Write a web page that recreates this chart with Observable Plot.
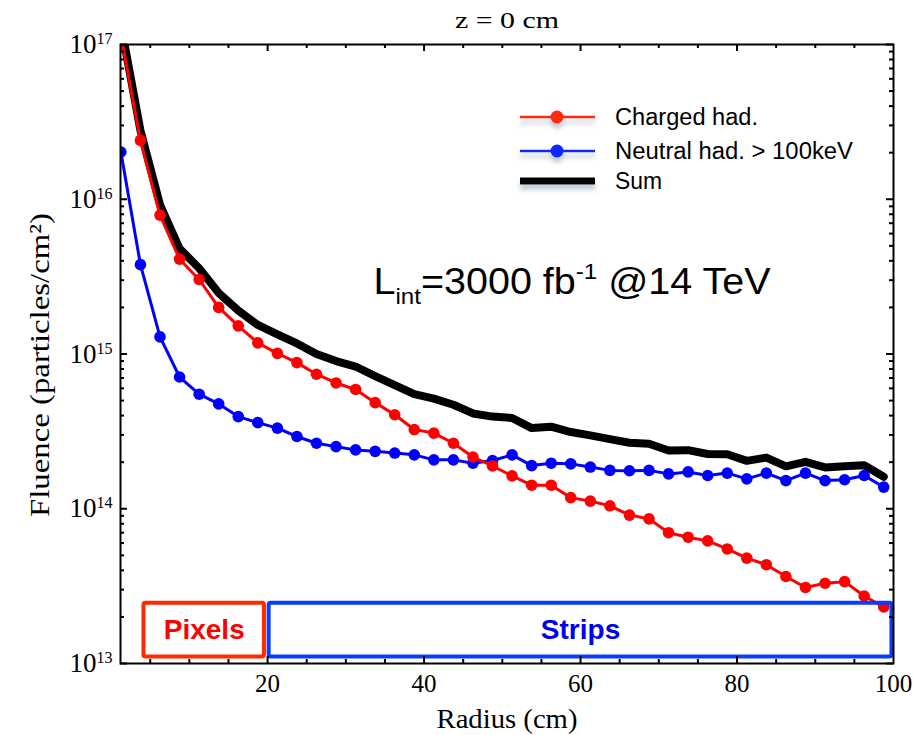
<!DOCTYPE html>
<html>
<head>
<meta charset="utf-8">
<script src="https://cdn.jsdelivr.net/npm/d3@7"></script>
<script src="https://cdn.jsdelivr.net/npm/@observablehq/plot@0.6"></script>
<style>
  html, body { margin: 0; padding: 0; background: #fff; overflow: hidden; }
  svg { display: block; }
  text { white-space: pre; }
</style>
</head>
<body>
<div id="chart"></div>
<script>
// ---------------- data ----------------
const radius = [1.25, 3.75, 6.25, 8.75, 11.25, 13.75, 16.25, 18.75, 21.25, 23.75,
  26.25, 28.75, 31.25, 33.75, 36.25, 38.75, 41.25, 43.75, 46.25, 48.75,
  51.25, 53.75, 56.25, 58.75, 61.25, 63.75, 66.25, 68.75, 71.25, 73.75,
  76.25, 78.75, 81.25, 83.75, 86.25, 88.75, 91.25, 93.75, 96.25, 98.75];

const charged = [1.15e17, 2.40e16, 7.9e15, 4.1e15, 3.03e15, 2.0e15, 1.52e15, 1.18e15, 1.01e15, 8.8e14,
  7.4e14, 6.5e14, 5.9e14, 4.85e14, 4.05e14, 3.25e14, 3.08e14, 2.65e14, 2.16e14, 1.89e14,
  1.63e14, 1.42e14, 1.42e14, 1.18e14, 1.12e14, 1.045e14, 9.1e13, 8.6e13, 7.0e13, 6.55e13,
  6.2e13, 5.5e13, 4.8e13, 4.35e13, 3.65e13, 3.1e13, 3.3e13, 3.38e13, 2.73e13, 2.32e13];

const neutral = [2.02e16, 3.78e15, 1.29e15, 7.1e14, 5.5e14, 4.76e14, 3.94e14, 3.6e14, 3.32e14, 2.93e14,
  2.65e14, 2.52e14, 2.4e14, 2.35e14, 2.29e14, 2.23e14, 2.07e14, 2.07e14, 1.97e14, 2.05e14,
  2.23e14, 1.9e14, 1.97e14, 1.95e14, 1.86e14, 1.77e14, 1.76e14, 1.77e14, 1.68e14, 1.73e14,
  1.64e14, 1.7e14, 1.56e14, 1.7e14, 1.52e14, 1.7e14, 1.52e14, 1.54e14, 1.64e14, 1.38e14];

const total = [1.35e17, 2.78e16, 9.2e15, 4.8e15, 3.58e15, 2.48e15, 1.91e15, 1.54e15, 1.34e15, 1.17e15,
  1.0e15, 9.0e14, 8.3e14, 7.2e14, 6.3e14, 5.5e14, 5.15e14, 4.7e14, 4.13e14, 3.94e14,
  3.86e14, 3.32e14, 3.39e14, 3.13e14, 2.98e14, 2.82e14, 2.67e14, 2.63e14, 2.38e14, 2.39e14,
  2.26e14, 2.25e14, 2.04e14, 2.14e14, 1.88e14, 2.01e14, 1.85e14, 1.88e14, 1.91e14, 1.61e14];

const seriesNames = ["Charged had.", "Neutral had. > 100keV", "Sum"];
const xTickLabels = [20, 40, 60, 80, 100];
const yTickExponents = [13, 14, 15, 16, 17];
const regions = [
  {label: "Pixels", r1: 4.2, r2: 19.6},
  {label: "Strips", r1: 20.2, r2: 99.8}
];
const regionFluence = [1.1e13, 2.45e13];
const titleText = "z = 0 cm";
const xLabel = "Radius (cm)";
const yLabel = "Fluence (particles/cm\u00B2)";
const annotation = "L_int=3000 fb^-1 @14 TeV";

// ---------------- styles ----------------
const RED = "#ff0000", BLUE = "#0000ff";
const regionStyle = {
  Pixels: {stroke: "#ff2a00", text: "#ff0000"},
  Strips: {stroke: "#0a3cff", text: "#0000f0"}
};
const legendStyle = [
  {stroke: "#ff2a10", width: 2.5, dot: true, textLength: 143},
  {stroke: "#0a28ff", width: 2.5, dot: true, textLength: 238},
  {stroke: "#000000", width: 7, dot: false, textLength: 47}
];
const serif = "'Liberation Serif','Times New Roman',serif";
const sans = "'Liberation Sans',Arial,Helvetica,sans-serif";

const W = 924, H = 735, mL = 120, mR = 31, mT = 44, mB = 72;
const fw = W - mL - mR, fh = H - mT - mB;

const rows = radius.map((r, i) => ({r, charged: charged[i], neutral: neutral[i], total: total[i]}));

const xMajor = xTickLabels.filter(v => v < 100);
const xMinor = d3.range(5, 100, 5).filter(v => v % 20 !== 0);
const yMajor = yTickExponents.map(e => Math.pow(10, e));
const yMinor = [];
for (const e of yTickExponents.slice(0, -1)) for (let m = 2; m < 10; m++) yMinor.push(m * Math.pow(10, e));

const tk = {stroke: "black", strokeWidth: 2};
const mid = {lineAnchor: "middle", textAnchor: "middle"};

const plot = Plot.plot({
  width: W, height: H,
  marginLeft: mL, marginRight: mR, marginTop: mT, marginBottom: mB,
  style: {background: "white", fontFamily: serif, overflow: "visible"},
  x: {domain: [1.2, 100], axis: null},
  y: {type: "log", domain: [1e13, 1e17], axis: null},
  marks: [
    // series
    Plot.line(rows, {x: "r", y: "total", stroke: "black", strokeWidth: 8, clip: true}),
    Plot.line(rows, {x: "r", y: "neutral", stroke: BLUE, strokeWidth: 3, clip: true}),
    Plot.dot(rows, {x: "r", y: "neutral", r: 5.8, fill: BLUE, clip: true}),
    Plot.line(rows, {x: "r", y: "charged", stroke: RED, strokeWidth: 3, clip: true}),
    Plot.dot(rows, {x: "r", y: "charged", r: 5.8, fill: RED, clip: true}),
    // detector regions
    ...regions.map(reg => Plot.rect([reg], {
      x1: "r1", x2: "r2", y1: () => regionFluence[0], y2: () => regionFluence[1],
      stroke: regionStyle[reg.label].stroke, strokeWidth: 4, fill: "none", rx: 2
    })),
    ...regions.map(reg => Plot.text([reg], {
      x: d => (d.r1 + d.r2) / 2, y: () => Math.sqrt(regionFluence[0] * regionFluence[1]),
      text: "label", fill: regionStyle[reg.label].text, fontWeight: "bold",
      fontSize: 28, fontFamily: sans, ...mid
    })),
    // ticks (inward, mirrored)
    Plot.tickX(xMajor, {x: d => d, insetTop: fh - 7, ...tk}),
    Plot.tickX(xMajor, {x: d => d, insetBottom: fh - 7, ...tk}),
    Plot.tickX(xMinor, {x: d => d, insetTop: fh - 4, ...tk}),
    Plot.tickX(xMinor, {x: d => d, insetBottom: fh - 4, ...tk}),
    Plot.tickY(yMajor, {y: d => d, insetRight: fw - 7, ...tk}),
    Plot.tickY(yMajor, {y: d => d, insetLeft: fw - 7, ...tk}),
    Plot.tickY(yMinor, {y: d => d, insetRight: fw - 4, ...tk}),
    Plot.tickY(yMinor, {y: d => d, insetLeft: fw - 4, ...tk}),
    Plot.frame({stroke: "black", strokeWidth: 2}),
    // tick labels
    Plot.text(xTickLabels, {x: d => d, frameAnchor: "bottom", dy: 20, text: d => String(d), fontSize: 25, fill: "black", ...mid}),
    Plot.text(yTickExponents, {y: e => Math.pow(10, e), frameAnchor: "left", dx: -8, textAnchor: "end", lineAnchor: "middle",
      text: e => "10^" + e, fontSize: 27, fill: "black"}),
    // titles
    Plot.text([titleText], {frameAnchor: "top", dy: -24, text: d => d, fontSize: 24, fill: "black", ...mid}),
    Plot.text([xLabel], {frameAnchor: "bottom", dy: 56, text: d => d, fontSize: 27, fill: "black", ...mid}),
    Plot.text([yLabel], {frameAnchor: "left", dx: -80, dy: 11, rotate: -90, text: d => d, fontSize: 28, fill: "black", ...mid}),
    // luminosity annotation
    Plot.text([annotation], {frameAnchor: "top-left", dx: 253, dy: 238, textAnchor: "start", lineAnchor: "middle",
      text: d => d, fontSize: 36, fontFamily: sans, fill: "black"})
  ]
});

document.getElementById("chart").appendChild(plot);

// ---------------- post-processing: super/subscripts, text widths ----------------
const svg = d3.select(plot);
svg.selectAll("text").each(function () {
  const t = d3.select(this);
  const s = this.textContent;
  let m = s.match(/^10\^(\d+)$/);
  if (m) {
    t.text("10");
    t.append("tspan").attr("dy", -9).attr("font-size", 16).text(m[1]);
    return;
  }
  if (s === annotation) {
    const m2 = s.match(/^(\w)_(\w+)(.*?)\^(\S+)(.*)$/);
    t.text("");
    t.append("tspan").text(m2[1]);
    t.append("tspan").attr("font-size", 22).attr("dy", 10).text(m2[2]);
    t.append("tspan").attr("dy", -10).text(m2[3]);
    t.append("tspan").attr("font-size", 22).attr("dy", -15).text(m2[4]);
    t.append("tspan").attr("dy", 15).text(m2[5]);
    t.attr("textLength", 397).attr("lengthAdjust", "spacingAndGlyphs");
    return;
  }
  if (s === titleText) t.attr("textLength", 104).attr("lengthAdjust", "spacingAndGlyphs");
  if (s === xLabel) t.attr("textLength", 141).attr("lengthAdjust", "spacingAndGlyphs");
  if (s === yLabel) t.attr("textLength", 304).attr("lengthAdjust", "spacingAndGlyphs");
});

// ---------------- legend ----------------
const defs = svg.append("defs");
const f = defs.append("filter").attr("id", "lshadow").attr("filterUnits", "userSpaceOnUse")
  .attr("x", 480).attr("y", 80).attr("width", 160).attr("height", 140);
f.append("feDropShadow").attr("dx", 0).attr("dy", 5).attr("stdDeviation", 2.5)
  .attr("flood-color", "#5a7490").attr("flood-opacity", 0.4);

const legendRows = [117, 151, 181];
const lg = svg.append("g").attr("text-anchor", "start");
seriesNames.forEach((name, i) => {
  const st = legendStyle[i];
  const y = legendRows[i];
  const g = lg.append("g").attr("filter", "url(#lshadow)");
  g.append("line").attr("x1", 520).attr("x2", 595).attr("y1", y).attr("y2", y)
    .attr("stroke", st.stroke).attr("stroke-width", st.width);
  if (st.dot) g.append("circle").attr("cx", 557).attr("cy", y).attr("r", 6.5).attr("fill", st.stroke);
  lg.append("text").attr("x", 615).attr("y", y).attr("dy", "0.35em")
    .attr("text-anchor", "start")
    .attr("font-family", sans).attr("font-size", 23).attr("fill", "black")
    .attr("textLength", st.textLength).attr("lengthAdjust", "spacingAndGlyphs")
    .text(name);
});
</script>
</body>
</html>
